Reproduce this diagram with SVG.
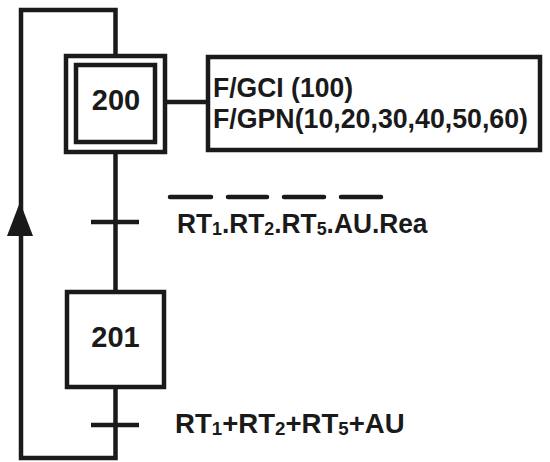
<svg xmlns="http://www.w3.org/2000/svg" width="550" height="462" viewBox="0 0 550 462">
<style>
.ln{fill:none;stroke:#1a1a1a;stroke-width:4.5;stroke-linecap:square}
.bar{stroke:#1a1a1a;stroke-width:4.5}
.bx{fill:#fff;stroke:#1a1a1a;stroke-width:4.5}
.t{font-family:"Liberation Sans",Arial,sans-serif;font-weight:bold;fill:#1a1a1a}
.sub{font-size:19px}
</style>
<rect width="550" height="462" fill="#fff"/>
<g id="connectors">
<polyline class="ln" points="115.5,56 115.5,10 21,10 21,458 115.5,458 115.5,387"/>
<line class="ln" x1="115.5" y1="152" x2="115.5" y2="292"/>
<line class="ln" x1="165" y1="102" x2="208" y2="102"/>
<polygon points="20,202 7,236 33,236" fill="#1a1a1a"/>
</g>
<g id="step200">
<rect class="bx" x="66" y="56" width="99" height="96"/>
<rect class="bx" x="76" y="65" width="79" height="77"/>
<text class="t" x="116" y="110" font-size="29" text-anchor="middle">200</text>
</g>
<g id="action200">
<rect class="bx" x="208" y="57" width="332" height="93"/>
<text class="t" x="213" y="97" font-size="28" textLength="140" lengthAdjust="spacingAndGlyphs">F/GCI (100)</text>
<text class="t" x="213" y="128" font-size="28" textLength="315" lengthAdjust="spacingAndGlyphs">F/GPN(10,20,30,40,50,60)</text>
</g>
<g id="transition1">
<line class="bar" x1="91" y1="222" x2="139" y2="222"/>
<g class="bar" style="stroke-linecap:round">
<line x1="170" y1="197" x2="211" y2="197"/>
<line x1="228" y1="197" x2="267" y2="197"/>
<line x1="284" y1="197" x2="324" y2="197"/>
<line x1="341" y1="197" x2="381" y2="197"/>
</g>
<text class="t" transform="translate(177,233) scale(0.94,1)" font-size="28">RT<tspan class="sub" dy="2">1</tspan><tspan dy="-2">.RT</tspan><tspan class="sub" dy="2">2</tspan><tspan dy="-2">.RT</tspan><tspan class="sub" dy="2">5</tspan><tspan dy="-2">.AU.Rea</tspan></text>
</g>
<g id="step201">
<rect class="bx" x="67" y="292" width="97" height="95"/>
<text class="t" x="115.5" y="347" font-size="29" text-anchor="middle">201</text>
</g>
<g id="transition2">
<line class="bar" x1="91" y1="425" x2="139" y2="425"/>
<text class="t" transform="translate(175,433) scale(0.985,1)" font-size="28">RT<tspan class="sub" dy="2">1</tspan><tspan dy="-2">+RT</tspan><tspan class="sub" dy="2">2</tspan><tspan dy="-2">+RT</tspan><tspan class="sub" dy="2">5</tspan><tspan dy="-2">+AU</tspan></text>
</g>
</svg>
